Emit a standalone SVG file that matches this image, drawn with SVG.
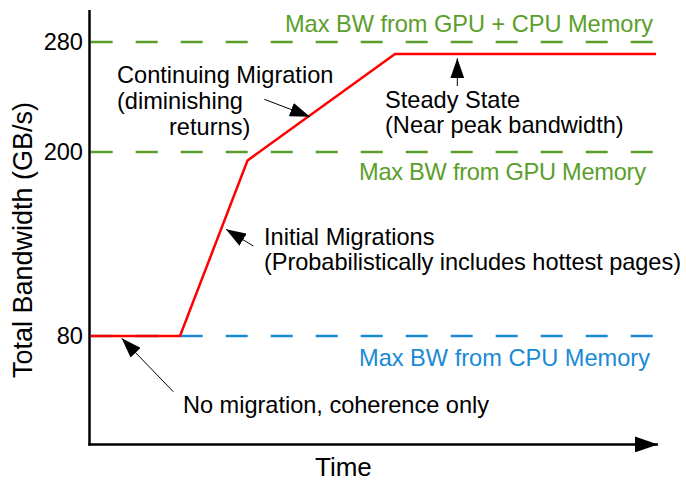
<svg xmlns="http://www.w3.org/2000/svg" width="686" height="481" viewBox="0 0 686 481">
<defs>
<style>
text{font-family:"Liberation Sans",Arial,sans-serif;font-size:23.6px;fill:#000}
.g{fill:#5B9E2B}
.b{fill:#1A8AD5}
.dash{stroke-width:2.6;stroke-dasharray:22 23;fill:none}
.ann{stroke:#000;stroke-width:1;fill:none;marker-end:url(#ah)}
</style>
<marker id="ah" markerUnits="userSpaceOnUse" markerWidth="22" markerHeight="14" refX="20" refY="7" orient="auto" viewBox="0 0 22 14">
<path d="M0,0 L20,7 L0,14 Z" fill="#000"/>
</marker>
<marker id="axh" markerUnits="userSpaceOnUse" markerWidth="24" markerHeight="16" refX="23" refY="8" orient="auto" viewBox="0 0 24 16">
<path d="M0,0 L23,8 L0,16 Z" fill="#000"/>
</marker>
</defs>
<rect width="686" height="481" fill="#fff"/>
<g id="reference-lines">
<line class="dash" x1="90.7" y1="42" x2="654" y2="42" stroke="#5B9E2B"/>
<line class="dash" x1="90.7" y1="152" x2="654" y2="152" stroke="#5B9E2B"/>
<line class="dash" x1="90.7" y1="336" x2="654" y2="336" stroke="#1A8AD5"/>
</g>
<g id="axes">
<line x1="89.5" y1="10" x2="89.5" y2="445.5" stroke="#000" stroke-width="2.5"/>
<line x1="88.3" y1="444.4" x2="658" y2="444.4" stroke="#000" stroke-width="2.5" marker-end="url(#axh)"/>
<text x="83" y="50" text-anchor="end">280</text>
<text x="83" y="160" text-anchor="end">200</text>
<text x="83" y="344" text-anchor="end">80</text>
<text x="32" y="240" text-anchor="middle" transform="rotate(-90 32 240)" style="font-size:27px">Total Bandwidth (GB/s)</text>
<text x="315" y="476" style="font-size:26px">Time</text>
</g>
<g id="curve">
<polyline points="90.7,336 180,336 247.5,160.5 395,54 656,54" fill="none" stroke="#FF0000" stroke-width="2.5" stroke-linejoin="miter"/>
</g>
<g id="labels">
<text class="g" x="285" y="31.5" textLength="368" lengthAdjust="spacing">Max BW from GPU + CPU Memory</text>
<text class="g" x="359" y="180" textLength="287" lengthAdjust="spacing">Max BW from GPU Memory</text>
<text class="b" x="359" y="366" textLength="291" lengthAdjust="spacing">Max BW from CPU Memory</text>
</g>
<g id="note-continuing">
<text x="117" y="83">Continuing Migration</text>
<text x="117" y="109">(diminishing</text>
<text x="169" y="135">returns)</text>
</g>
<g id="note-steady">
<text x="385" y="108">Steady State</text>
<text x="385" y="133">(Near peak bandwidth)</text>
</g>
<g id="note-initial">
<text x="264" y="245">Initial Migrations</text>
<text x="264" y="270" textLength="417" lengthAdjust="spacing">(Probabilistically includes hottest pages)</text>
</g>
<g id="note-none">
<text x="183" y="413" textLength="306" lengthAdjust="spacing">No migration, coherence only</text>
</g>
<g id="connectors">
<line class="ann" x1="264.3" y1="99.3" x2="310" y2="116.7"/>
<line class="ann" x1="457.3" y1="86" x2="457.3" y2="58.3"/>
<line class="ann" x1="253.3" y1="246" x2="226" y2="229.3"/>
<line class="ann" x1="173.3" y1="391.7" x2="121.7" y2="338.3"/>
</g>
</svg>
